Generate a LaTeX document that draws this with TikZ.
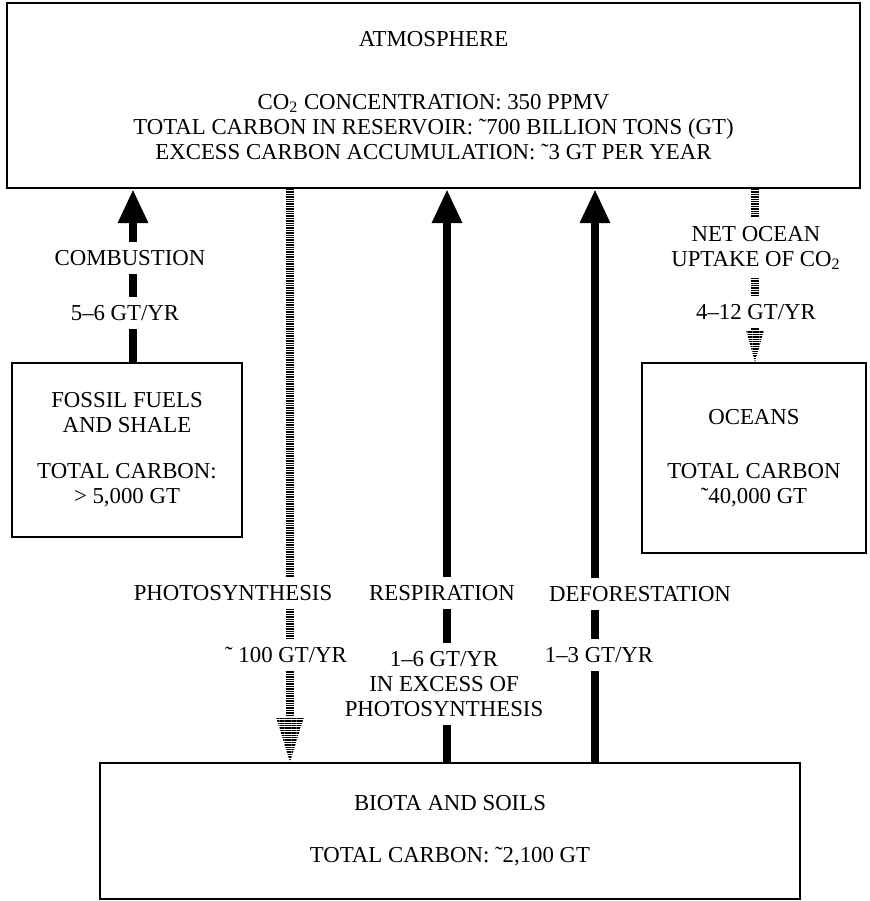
\documentclass[tikz,border=0pt]{standalone}
\usepackage{fontspec}
\setmainfont{Liberation Serif}
\usetikzlibrary{arrows.meta,patterns.meta,calc}
\newcommand\lblfont{\fontsize{11.4}{12.5}\selectfont}
\begin{document}
\begin{tikzpicture}[x=0.5pt,y=-0.5pt,
  box/.style={draw, line width=1pt, align=center, inner sep=0pt, font=\lblfont},
  lbl/.style={fill=white, align=center, inner xsep=2pt, inner ysep=4pt, font=\lblfont},
  solidarrow/.style={line width=4.4pt, -{Triangle[width=14pt,length=17pt]}},
  hatch/.style={line width=4pt, dash pattern=on 0.7pt off 0.5pt},
  hatchhead/.style={pattern={Lines[angle=0,distance=1.2pt,line width=0.7pt]}}]
\useasboundingbox (0,0) rectangle (870,901);

% reservoirs
\node[box, minimum width=426.5pt, minimum height=92.5pt] (atm) at (433.5,95.5)
  {ATMOSPHERE\\[19pt]
   CO\textsubscript{2} CONCENTRATION: 350 PPMV\\
   TOTAL CARBON IN RESERVOIR: ˜700 BILLION TONS (GT)\\
   EXCESS CARBON ACCUMULATION: ˜3 GT PER YEAR};
\node[box, minimum width=115pt, minimum height=87pt] (fos) at (127,450)
  {FOSSIL FUELS\\ AND SHALE\\[10.5pt] TOTAL CARBON:\\ > 5,000 GT};
\node[box, minimum width=112pt, minimum height=95pt] (oce) at (754,458)
  {OCEANS\\[14.5pt] TOTAL CARBON\\ ˜40,000 GT};
\node[box, minimum width=350pt, minimum height=68pt] (bio) at (450,831)
  {BIOTA AND SOILS\\[13.5pt] TOTAL CARBON: ˜2,100 GT};

% x positions of the flows
\coordinate (xcb) at (133,0);
\coordinate (xps) at (290,0);
\coordinate (xrs) at (447,0);
\coordinate (xdf) at (595,0);
\coordinate (xoc) at (755,0);

% flows
\draw[solidarrow] (fos.north -| xcb) -- (atm.south -| xcb);
\draw[hatch] (atm.south -| xps) -- ($(bio.north -| xps)+(0,-45)$);
\fill[hatchhead] ($(bio.north -| xps)+(-14,-45)$) -- ($(bio.north -| xps)+(14,-45)$) -- (bio.north -| xps) -- cycle;
\draw[solidarrow] (bio.north -| xrs) -- (atm.south -| xrs);
\draw[solidarrow] (bio.north -| xdf) -- (atm.south -| xdf);
\draw[hatch] (atm.south -| xoc) -- ($(oce.north -| xoc)+(0,-32)$);
\fill[hatchhead] ($(oce.north -| xoc)+(-9,-32)$) -- ($(oce.north -| xoc)+(9,-32)$) -- (oce.north -| xoc) -- cycle;

% labels
\node[lbl] (cb1) at (130,258) {COMBUSTION};
\node[lbl] (cb2) at (125,313) {5–6 GT/YR};
\node[lbl] (rs2) at (444,684) {1–6 GT/YR\\ IN EXCESS OF\\ PHOTOSYNTHESIS};
\node[lbl] (ps1) at (233,593) {PHOTOSYNTHESIS};
\node[lbl] (ps2) at (286,655) {˜ 100 GT/YR};
\node[lbl] (rs1) at (442,593) {RESPIRATION};
\node[lbl] (df1) at (640,594) {DEFORESTATION};
\node[lbl] (df2) at (599,655) {1–3 GT/YR};
\node[lbl] (oc1) at (756,248) {NET OCEAN\\ UPTAKE OF CO\textsubscript{2}};
\node[lbl] (oc2) at (756,312) {4–12 GT/YR};
\end{tikzpicture}
\end{document}
